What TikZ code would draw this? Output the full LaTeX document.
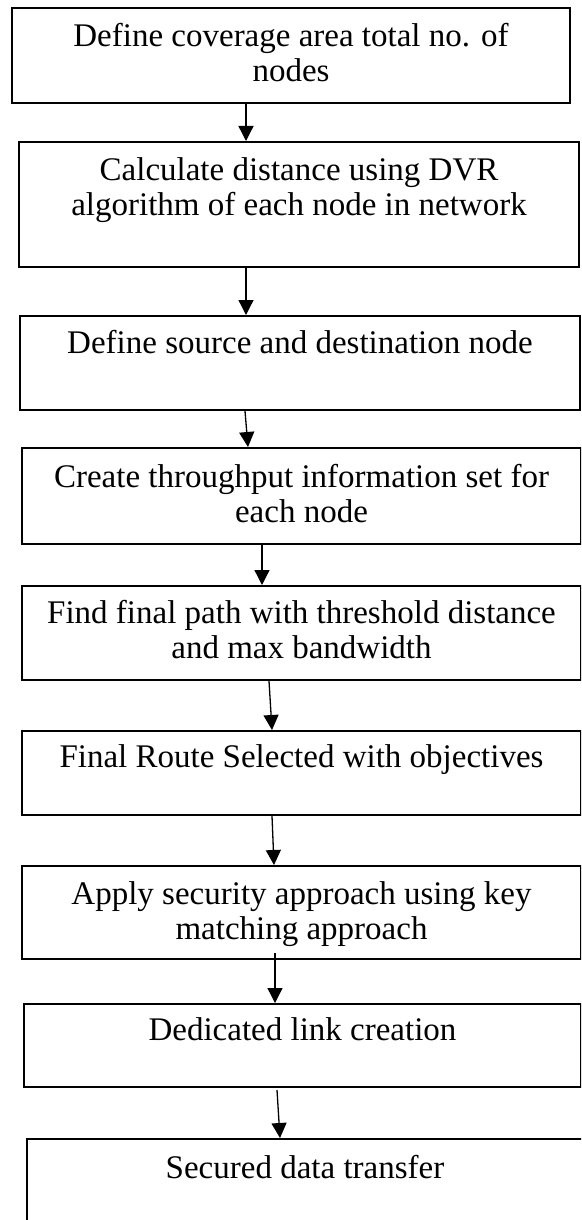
\documentclass[tikz,border=0pt]{standalone}
\usepackage{fontspec}
\setmainfont{Liberation Serif}
\usetikzlibrary{arrows.meta}
\begin{document}
\begin{tikzpicture}[x=1pt,y=-1pt,
  stepbox/.style={draw=black,line width=2pt,rectangle,inner sep=0pt,anchor=north west},
  lbl/.style={font=\fontsize{33}{35}\selectfont,inner sep=0pt,anchor=base,align=center},
  arr/.style={line width=1.3pt,-{Triangle[length=15pt,width=15pt]}}]
\clip (0,0) rectangle (581,1220);
\fill[white] (0,0) rectangle (581,1220);
% boxes
\node[stepbox,minimum width=558pt,minimum height=95pt] (b1) at (11,7) {};
\node[stepbox,minimum width=560pt,minimum height=125pt] (b2) at (18,141) {};
\node[stepbox,minimum width=560pt,minimum height=94pt] (b3) at (19,315) {};
\node[stepbox,minimum width=559pt,minimum height=96pt] (b4) at (21,447) {};
\node[stepbox,minimum width=559pt,minimum height=94pt] (b5) at (21,585) {};
\node[stepbox,minimum width=559pt,minimum height=84pt] (b6) at (21,730) {};
\node[stepbox,minimum width=559pt,minimum height=93pt] (b7) at (21,865) {};
\node[stepbox,minimum width=557pt,minimum height=83pt] (b8) at (23,1003) {};
\node[stepbox,minimum width=580pt,minimum height=120pt] (b9) at (26,1138) {};
% texts
\node[lbl] (t1a) at ([yshift=-40pt]b1.north) {Define coverage area total no. of};
\node[lbl] (t1b) at ([yshift=-75pt]b1.north) {nodes};
\node[lbl] (t2a) at ([yshift=-39pt]b2.north) {Calculate distance using DVR};
\node[lbl] (t2b) at ([yshift=-74pt]b2.north) {algorithm of each node in network};
\node[lbl] (t3) at ([yshift=-38pt]b3.north) {Define source and destination node};
\node[lbl] (t4a) at ([yshift=-40pt]b4.north) {Create throughput information set for};
\node[lbl] (t4b) at ([yshift=-75pt]b4.north) {each node};
\node[lbl] (t5a) at ([yshift=-38pt]b5.north) {Find final path with threshold distance};
\node[lbl] (t5b) at ([yshift=-73pt]b5.north) {and max bandwidth};
\node[lbl] (t6) at ([yshift=-37pt]b6.north) {Final Route Selected with objectives};
\node[lbl] (t7a) at ([yshift=-39pt]b7.north) {Apply security approach using key};
\node[lbl] (t7b) at ([yshift=-74pt]b7.north) {matching approach};
\node[lbl] (t8) at ([yshift=-37pt]b8.north) {Dedicated link creation};
\node[lbl] (t9) at ([yshift=-40pt,xshift=279pt]b9.north west) {Secured data transfer};
% arrows
\draw[arr] ([xshift=235pt]b1.south west) -- ([xshift=228pt]b2.north west);
\draw[arr] ([xshift=228pt]b2.south west) -- ([xshift=227pt]b3.north west);
\draw[arr] ([xshift=226pt]b3.south west) -- ([xshift=227pt]b4.north west);
\draw[arr] ([xshift=241pt]b4.south west) -- ([xshift=241pt]b5.north west);
\draw[arr] ([xshift=248pt]b5.south west) -- ([xshift=251pt]b6.north west);
\draw[arr] ([xshift=251pt]b6.south west) -- ([xshift=253pt]b7.north west);
\draw[arr] ([xshift=254pt,yshift=7pt]b7.south west) -- ([xshift=252pt]b8.north west);
\draw[arr] ([xshift=254pt,yshift=-2pt]b8.south west) -- ([xshift=254pt]b9.north west);
\end{tikzpicture}
\end{document}
